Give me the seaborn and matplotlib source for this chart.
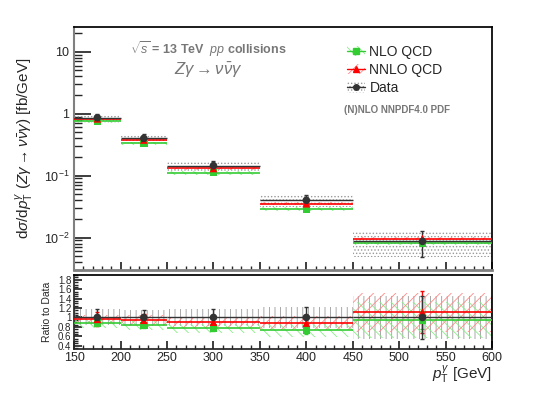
import numpy as np
import matplotlib
matplotlib.use("Agg")
import matplotlib.pyplot as plt
import seaborn as sns
import pandas as pd
from matplotlib.patches import Patch
from matplotlib.lines import Line2D
from matplotlib.ticker import FixedLocator, MultipleLocator, NullFormatter

# binning in photon pT [GeV]
bin_edges = [150, 200, 250, 350, 450, 600]
bin_centers = [175, 225, 300, 400, 525]

# cross sections [fb/GeV]
data_xs = [0.86, 0.40, 0.145, 0.040, 0.0087]
data_rel_err = [0.17, 0.16, 0.18, 0.22, 0.45]
nnlo_ratio = [0.96, 0.94, 0.90, 0.88, 1.11]
nlo_ratio = [0.88, 0.83, 0.77, 0.73, 0.94]
nnlo_rel_err = [0.05, 0.05, 0.05, 0.06, 0.06]
nlo_rel_err = [0.07, 0.07, 0.07, 0.08, 0.08]

# ratio panel bands (relative to data)
nnlo_ratio_band = [0.10, 0.12, 0.12, 0.15, 0.42]
nlo_ratio_band = [0.10, 0.10, 0.10, 0.14, 0.38]

series_names = ["NLO QCD", "NNLO QCD", "Data"]

sns.set_theme(style="ticks")
plt.rcParams["font.family"] = ["Liberation Sans", "DejaVu Sans"]
plt.rcParams["mathtext.fontset"] = "custom"
plt.rcParams["mathtext.rm"] = "Liberation Sans"
plt.rcParams["mathtext.it"] = "Liberation Sans:italic"
plt.rcParams["mathtext.bf"] = "Liberation Sans:bold"
plt.rcParams["hatch.linewidth"] = 0.6

edges = np.array(bin_edges)
centers = np.array(bin_centers)
data = np.array(data_xs)
derr = np.array(data_rel_err)
nnlo = data * np.array(nnlo_ratio)
nlo = data * np.array(nlo_ratio)

green = "#33cc33"
red = "#ff0000"
dark = "#333333"

fig = plt.figure(figsize=(5.45, 3.93), dpi=100)
ax = fig.add_axes([0.136, 0.313, 0.767, 0.618])
rax = fig.add_axes([0.136, 0.112, 0.767, 0.188])


def ext(v):
    return np.append(v, v[-1])


def band(a, lo, hi, color, hatch, z):
    a.fill_between(edges, ext(lo), ext(hi), step="post", facecolor="none",
                   edgecolor=color, hatch=hatch, linewidth=0, zorder=z)


def steps(a, y, color, lw=1.2, z=3):
    a.hlines(y, edges[:-1], edges[1:], color=color, linewidth=lw, zorder=z)


# ---- upper panel ----
band(ax, data * (1 - derr), data * (1 + derr), "#999999", ".....", 1)
band(ax, nlo * (1 - np.array(nlo_rel_err)), nlo * (1 + np.array(nlo_rel_err)), "#88ee88", "\\\\\\", 2)
band(ax, nnlo * (1 - np.array(nnlo_rel_err)), nnlo * (1 + np.array(nnlo_rel_err)), "#ff8888", "///", 2)
steps(ax, nlo, green)
steps(ax, nnlo, red)
steps(ax, data, dark, lw=1.0, z=4)

pts = pd.DataFrame({
    "pt": np.concatenate([centers, centers, centers]),
    "xs": np.concatenate([nlo, nnlo, data]),
    "series": np.repeat(series_names, len(centers)),
})
sns.scatterplot(data=pts, x="pt", y="xs", hue="series", style="series",
                markers={"NLO QCD": "s", "NNLO QCD": "^", "Data": "o"},
                palette={"NLO QCD": green, "NNLO QCD": red, "Data": dark},
                s=30, edgecolor="none", legend=False, ax=ax, zorder=6)
ax.errorbar(centers, data, yerr=data * derr, fmt="none", ecolor=dark,
            elinewidth=1, capsize=1.5, zorder=5)

ax.set_yscale("log")
ax.set_xlim(150, 600)
ax.set_ylim(0.003, 25)
ax.set_xlabel("")
ax.set_ylabel(r"d$\sigma$/d$p_{\mathrm{T}}^{\gamma}$ ($Z\gamma\rightarrow\nu\bar{\nu}\gamma$) [fb/GeV]",
              fontsize=11, labelpad=6)
ax.yaxis.set_major_locator(FixedLocator([0.01, 0.1, 1, 10]))
ax.set_yticklabels([r"$10^{-2}$", r"$10^{-1}$", "1", "10"])
ax.xaxis.set_major_locator(MultipleLocator(50))
ax.xaxis.set_minor_locator(MultipleLocator(10))
ax.xaxis.set_major_formatter(NullFormatter())
ax.tick_params(axis="y", which="major", direction="in", length=12, labelsize=9, right=False)
ax.tick_params(axis="y", which="minor", direction="in", length=6, right=False)
ax.tick_params(axis="x", which="major", direction="in", length=6, top=False)
ax.tick_params(axis="x", which="minor", direction="in", length=3, top=False)
for s in ["top", "right"]:
    ax.spines[s].set_visible(True)
    ax.spines[s].set_color("black")
ax.spines["left"].set_color("#808080")
ax.spines["left"].set_linewidth(1.5)
ax.spines["bottom"].set_color("#808080")
ax.spines["bottom"].set_linewidth(2)

ax.text(0.32, 0.91, r"$\sqrt{s}$ = 13 TeV  $pp$ collisions", transform=ax.transAxes,
        ha="center", va="center", fontsize=9, fontweight="bold", color="#777777")
ax.text(0.32, 0.82, r"$Z\gamma\rightarrow\nu\bar{\nu}\gamma$", transform=ax.transAxes,
        ha="center", va="center", fontsize=12, color="#777777")
ax.text(0.645, 0.658, "(N)NLO NNPDF4.0 PDF", transform=ax.transAxes,
        ha="left", va="center", fontsize=7, fontweight="bold", color="#777777")

handles = [
    (Patch(facecolor="none", edgecolor="#88ee88", hatch="\\\\\\", linewidth=0),
     Line2D([], [], color=green, marker="s", markersize=4, linewidth=1)),
    (Patch(facecolor="none", edgecolor="#ff8888", hatch="///", linewidth=0),
     Line2D([], [], color=red, marker="^", markersize=4, linewidth=1)),
    (Patch(facecolor="none", edgecolor="#999999", hatch=".....", linewidth=0),
     Line2D([], [], color=dark, marker="o", markersize=4, linewidth=1)),
]
ax.legend(handles, series_names, loc="upper left", bbox_to_anchor=(0.64, 0.95),
          frameon=False, fontsize=10, handlelength=1.3, handleheight=0.8,
          handletextpad=0.3, labelspacing=0.3, borderaxespad=0)

# ---- ratio panel ----
ones = np.ones(len(centers))
band(rax, 1 - derr, 1 + derr, "#999999", "|||", 1)
band(rax, np.array(nlo_ratio) - np.array(nlo_ratio_band),
     np.array(nlo_ratio) + np.array(nlo_ratio_band), "#88ee88", "\\\\\\", 2)
band(rax, np.array(nnlo_ratio) - np.array(nnlo_ratio_band),
     np.array(nnlo_ratio) + np.array(nnlo_ratio_band), "#ff8888", "///", 2)
steps(rax, np.array(nlo_ratio), green)
steps(rax, np.array(nnlo_ratio), red)
steps(rax, ones, dark, lw=1.0, z=4)

rpts = pd.DataFrame({
    "pt": np.concatenate([centers, centers, centers]),
    "ratio": np.concatenate([nlo_ratio, nnlo_ratio, ones]),
    "series": np.repeat(series_names, len(centers)),
})
rax.errorbar(centers, nlo_ratio, yerr=np.array(nlo_ratio) * derr * 0.45, fmt="none",
             ecolor=green, elinewidth=1, capsize=1.5, zorder=5)
rax.errorbar(centers, nnlo_ratio, yerr=np.array(nnlo_ratio) * derr * 0.9, fmt="none",
             ecolor=red, elinewidth=1, capsize=1.5, zorder=5)
rax.errorbar(centers, ones, yerr=derr, fmt="none", ecolor=dark,
             elinewidth=1, capsize=1.5, zorder=5)
sns.scatterplot(data=rpts, x="pt", y="ratio", hue="series", style="series",
                markers={"NLO QCD": "s", "NNLO QCD": "^", "Data": "o"},
                palette={"NLO QCD": green, "NNLO QCD": red, "Data": dark},
                s=30, edgecolor="none", legend=False, ax=rax, zorder=6)

rax.set_xlim(150, 600)
rax.set_ylim(0.33, 1.9)
rax.yaxis.set_major_locator(FixedLocator([0.4, 0.6, 0.8, 1.0, 1.2, 1.4, 1.6, 1.8]))
rax.set_yticklabels(["0.4", "0.6", "0.8", "1", "1.2", "1.4", "1.6", "1.8"])
rax.yaxis.set_minor_locator(MultipleLocator(0.05))
rax.xaxis.set_major_locator(MultipleLocator(50))
rax.xaxis.set_minor_locator(MultipleLocator(10))
rax.tick_params(axis="y", which="major", direction="in", length=6, labelsize=7, pad=2)
rax.tick_params(axis="y", which="minor", direction="in", length=3)
rax.tick_params(axis="x", which="major", direction="in", length=6, labelsize=9, pad=2)
rax.tick_params(axis="x", which="minor", direction="in", length=3)
for s in ["top", "right"]:
    rax.spines[s].set_visible(True)
    rax.spines[s].set_color("black")
rax.set_ylabel("Ratio to Data", fontsize=7.5, labelpad=4)
rax.set_xlabel(r"$p_{\mathrm{T}}^{\gamma}$ [GeV]", fontsize=11, labelpad=0, loc="right")

fig.savefig("out.png", dpi=100)
